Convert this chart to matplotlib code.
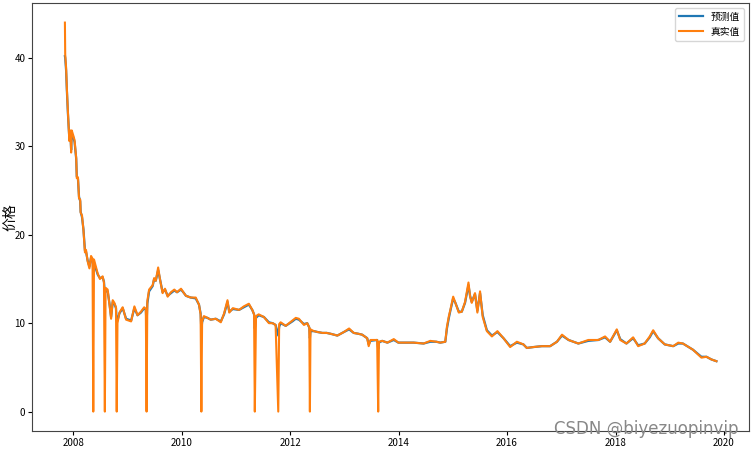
import matplotlib.pyplot as plt
import pandas as pd

plt.rcParams['font.family'] = ['Noto Sans CJK SC', 'DejaVu Sans']
plt.rcParams['axes.unicode_minus'] = False

# 日期
dates = [
    "2007-11-06", "2007-11-08", "2007-11-14", "2007-11-19", "2007-11-26", "2007-12-06", "2007-12-13",
    "2007-12-18", "2007-12-22", "2008-01-02", "2008-01-10", "2008-01-21", "2008-01-25", "2008-02-02",
    "2008-02-09", "2008-02-17", "2008-02-20", "2008-02-29", "2008-03-10", "2008-03-20", "2008-03-27",
    "2008-04-07", "2008-04-19", "2008-04-30", "2008-05-10", "2008-05-15", "2008-05-20", "2008-06-14",
    "2008-06-29", "2008-07-17", "2008-07-26", "2008-08-01", "2008-08-06", "2008-08-20", "2008-09-02",
    "2008-09-12", "2008-09-23", "2008-10-04", "2008-10-15", "2008-10-20", "2008-10-25", "2008-11-07",
    "2008-11-18", "2008-11-29", "2008-12-22", "2009-01-25", "2009-02-16", "2009-03-09", "2009-04-01",
    "2009-04-23", "2009-05-04", "2009-05-09", "2009-05-14", "2009-05-26", "2009-06-19", "2009-06-29",
    "2009-07-10", "2009-07-26", "2009-08-07", "2009-08-25", "2009-09-10", "2009-09-28", "2009-10-20",
    "2009-11-12", "2009-11-30", "2009-12-27", "2010-01-16", "2010-01-29", "2010-03-02", "2010-04-05",
    "2010-04-27", "2010-05-08", "2010-05-13", "2010-05-18", "2010-05-30", "2010-06-23", "2010-07-15",
    "2010-08-18", "2010-09-21", "2010-10-13", "2010-11-05", "2010-11-17", "2010-12-11", "2011-01-22",
    "2011-02-23", "2011-03-29", "2011-04-21", "2011-05-03", "2011-05-08", "2011-05-16", "2011-06-03",
    "2011-07-08", "2011-08-11", "2011-09-05", "2011-09-25", "2011-10-13", "2011-10-19", "2011-10-29",
    "2011-12-02", "2012-01-16", "2012-02-08", "2012-02-29", "2012-04-03", "2012-04-25", "2012-05-09",
    "2012-05-13", "2012-05-17", "2012-06-09", "2012-07-04", "2012-08-05", "2012-09-03", "2012-09-30",
    "2012-11-14", "2012-12-28", "2013-02-01", "2013-03-04", "2013-04-05", "2013-04-30", "2013-06-03",
    "2013-06-13", "2013-06-25", "2013-08-09", "2013-08-16", "2013-08-21", "2013-09-12", "2013-10-17",
    "2013-11-29", "2013-12-30", "2014-02-05", "2014-04-12", "2014-06-18", "2014-08-02", "2014-09-12",
    "2014-10-08", "2014-11-11", "2014-11-22", "2014-12-05", "2014-12-15", "2015-01-03", "2015-01-18",
    "2015-02-10", "2015-03-02", "2015-03-24", "2015-04-16", "2015-04-27", "2015-05-08", "2015-05-30",
    "2015-06-15", "2015-07-03", "2015-07-21", "2015-08-18", "2015-09-21", "2015-10-28", "2015-12-08",
    "2016-01-22", "2016-03-07", "2016-04-20", "2016-05-13", "2016-06-27", "2016-08-22", "2016-10-17",
    "2016-12-02", "2017-01-05", "2017-02-18", "2017-04-25", "2017-07-01", "2017-09-07", "2017-10-22",
    "2017-11-25", "2018-01-09", "2018-02-01", "2018-03-15", "2018-04-29", "2018-06-02", "2018-07-16",
    "2018-08-19", "2018-09-11", "2018-10-14", "2018-11-28", "2019-01-24", "2019-02-27", "2019-03-30",
    "2019-06-06", "2019-08-02", "2019-09-05", "2019-10-08", "2019-11-11",
]

# 真实值
actual = [
    44.0, 40.4, 38.9, 36.6, 34.0, 30.6, 31.8,
    29.3, 31.8, 31.2, 30.7, 28.7, 26.4, 26.5,
    24.1, 24.0, 22.5, 22.2, 20.5, 18.0, 18.3,
    17.0, 16.2, 17.6, 17.3, 0.0, 17.2, 15.6,
    15.0, 15.3, 14.6, 0.0, 14.0, 13.8, 12.0,
    10.5, 12.6, 12.3, 11.8, 0.0, 10.0, 11.2,
    11.5, 11.8, 10.4, 10.2, 11.9, 10.9, 11.3,
    11.8, 11.6, 0.0, 12.5, 13.8, 14.3, 15.1,
    14.8, 16.3, 15.0, 13.4, 13.9, 13.0, 13.5,
    13.8, 13.5, 13.9, 13.4, 13.1, 12.9, 12.9,
    12.1, 11.0, 0.0, 10.2, 10.8, 10.6, 10.4,
    10.5, 10.1, 11.1, 12.6, 11.2, 11.7, 11.5,
    11.9, 12.2, 11.5, 11.0, 0.0, 10.8, 11.0,
    10.7, 10.0, 10.0, 9.8, 0.0, 9.9, 10.1,
    9.7, 10.3, 10.6, 10.5, 9.8, 10.0, 9.5,
    0.0, 9.3, 9.1, 9.0, 8.9, 8.9, 8.8,
    8.6, 9.0, 9.4, 8.9, 8.8, 8.7, 8.3,
    7.4, 8.1, 8.1, 0.0, 7.9, 8.0, 7.8,
    8.2, 7.8, 7.8, 7.8, 7.7, 8.0, 7.9,
    7.8, 7.9, 9.6, 10.8, 11.5, 13.0, 12.3,
    11.2, 11.3, 12.4, 14.6, 13.0, 12.3, 13.4,
    11.2, 13.6, 10.7, 9.1, 8.5, 9.1, 8.3,
    7.3, 7.9, 7.6, 7.2, 7.3, 7.4, 7.4,
    7.9, 8.7, 8.1, 7.7, 8.1, 8.1, 8.5,
    7.9, 9.3, 8.1, 7.7, 8.4, 7.4, 7.7,
    8.5, 9.2, 8.3, 7.6, 7.4, 7.8, 7.7,
    7.0, 6.1, 6.2, 5.9, 5.7,
]

# 预测值
predicted = [
    40.2, 40.0, 38.6, 36.4, 33.8, 30.8, 31.5,
    29.6, 31.4, 31.0, 30.5, 28.6, 26.6, 26.3,
    24.3, 23.8, 22.6, 22.0, 20.6, 18.2, 18.1,
    17.1, 16.4, 17.4, 17.2, 16.0, 16.8, 15.5,
    15.1, 15.2, 14.7, 13.5, 13.6, 13.6, 12.1,
    10.7, 12.4, 12.2, 11.7, 10.2, 10.3, 11.1,
    11.4, 11.7, 10.5, 10.3, 11.7, 10.9, 11.2,
    11.7, 11.5, 9.8, 12.2, 13.6, 14.2, 15.0,
    14.8, 16.0, 15.0, 13.5, 13.8, 13.1, 13.4,
    13.7, 13.5, 13.8, 13.4, 13.1, 12.9, 12.8,
    12.1, 11.1, 9.2, 10.1, 10.7, 10.6, 10.4,
    10.5, 10.2, 11.0, 12.4, 11.3, 11.6, 11.5,
    11.8, 12.1, 11.5, 11.0, 9.4, 10.6, 10.9,
    10.7, 10.1, 10.0, 9.8, 8.6, 9.6, 10.0,
    9.7, 10.2, 10.5, 10.4, 9.9, 10.0, 9.5,
    8.3, 9.1, 9.1, 9.0, 8.9, 8.9, 8.8,
    8.6, 9.0, 9.3, 8.9, 8.8, 8.7, 8.3,
    7.6, 8.0, 8.1, 7.1, 7.8, 8.0, 7.8,
    8.1, 7.8, 7.8, 7.8, 7.7, 7.9, 7.9,
    7.8, 7.9, 9.4, 10.6, 11.4, 12.8, 12.3,
    11.3, 11.3, 12.3, 14.3, 13.1, 12.4, 13.3,
    11.4, 13.4, 10.9, 9.2, 8.6, 9.0, 8.3,
    7.4, 7.8, 7.6, 7.2, 7.3, 7.4, 7.4,
    7.9, 8.6, 8.1, 7.7, 8.0, 8.1, 8.4,
    7.9, 9.2, 8.2, 7.7, 8.3, 7.5, 7.7,
    8.4, 9.1, 8.3, 7.6, 7.4, 7.7, 7.7,
    7.0, 6.2, 6.2, 5.9, 5.7,
]

x = pd.to_datetime(dates)

fig = plt.figure(figsize=(7.52, 4.49), dpi=100)
ax = fig.add_axes([0.043, 0.040, 0.953, 0.953])
ax.plot(x, predicted, label="预测值", color="#1f77b4", lw=1.6)
ax.plot(x, actual, label="真实值", color="#ff7f0e", lw=1.5)
ax.set_ylabel("价格", fontsize=10)
ax.yaxis.set_label_coords(-0.021, 0.5)
ax.tick_params(labelsize=7, length=3, pad=2)
for s in ax.spines.values():
    s.set_color("#444444")
ax.legend(fontsize=7, loc="upper right", handlelength=2.5)

fig.text(0.86, 0.045, "CSDN @biyezuopinvip", color="#888888", fontsize=12,
         ha="center", va="center", family=["DejaVu Sans"])

fig.savefig("out.png")
